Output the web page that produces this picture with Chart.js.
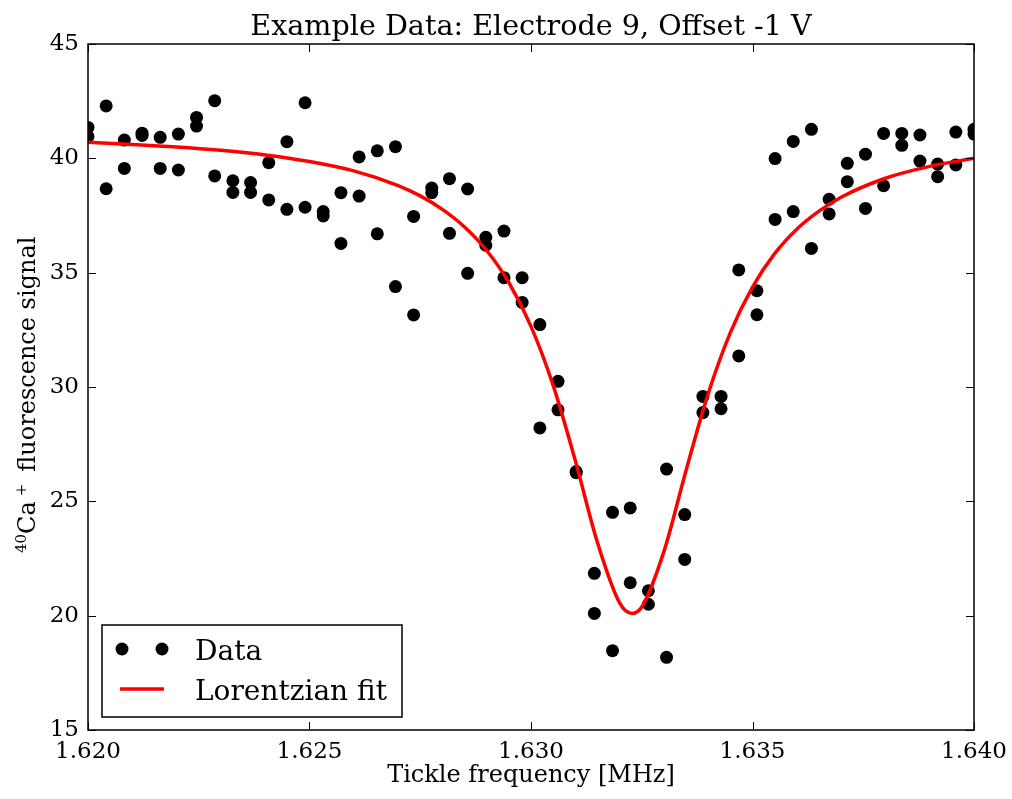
<!DOCTYPE html>
<html>
<head>
<meta charset="utf-8">
<title>Electrode 9 tickle scan</title>
<script src="https://cdn.jsdelivr.net/npm/chart.js@4.4.0/dist/chart.umd.min.js"></script>
<style>
  html, body { margin: 0; padding: 0; background: #fff; }
  canvas { display: block; }
</style>
</head>
<body>
<canvas id="scan" width="1012" height="799"></canvas>
<script>
const FONT = "'DejaVu Serif', serif";
const TITLE = 'Example Data: Electrode 9, Offset -1 V';

// tickle frequency steps [MHz]; two fluorescence readings were taken at each step
const freq = [
  1.62000, 1.62041, 1.62082, 1.62122, 1.62163, 1.62204, 1.62245, 1.62286, 1.62327, 1.62367,
  1.62408, 1.62449, 1.62490, 1.62531, 1.62571, 1.62612, 1.62653, 1.62694, 1.62735, 1.62776,
  1.62816, 1.62857, 1.62898, 1.62939, 1.62980, 1.63020, 1.63061, 1.63102, 1.63143, 1.63184,
  1.63224, 1.63265, 1.63306, 1.63347, 1.63388, 1.63429, 1.63469, 1.63510, 1.63551, 1.63592,
  1.63633, 1.63673, 1.63714, 1.63755, 1.63796, 1.63837, 1.63878, 1.63918, 1.63959, 1.64000
];
const signalA = [
  41.35, 42.29, 40.80, 41.10, 40.92, 41.06, 41.79, 42.52, 39.02, 38.94,
  39.81, 40.73, 42.43, 37.67, 38.50, 40.06, 40.33, 40.51, 37.46, 38.70,
  39.11, 38.66, 36.55, 36.82, 34.78, 32.73, 30.25, 26.30, 21.85, 24.52,
  24.71, 21.09, 26.41, 24.42, 29.59, 29.59, 35.12, 34.21, 39.99, 40.74,
  41.27, 38.21, 39.78, 40.18, 41.09, 41.09, 41.02, 39.75, 41.15, 41.27
];
const signalB = [
  40.95, 38.67, 39.56, 41.00, 39.56, 39.49, 41.41, 39.23, 38.51, 38.51,
  38.18, 37.77, 37.86, 37.48, 36.28, 38.35, 36.70, 34.39, 33.15, 38.50,
  36.72, 34.97, 36.20, 34.78, 33.70, 28.21, 29.00, 26.25, 20.10, 18.47,
  21.44, 20.50, 18.18, 22.46, 28.88, 29.05, 31.36, 33.16, 37.33, 37.67,
  36.06, 37.57, 38.98, 37.81, 38.80, 40.57, 39.88, 39.20, 39.71, 41.06
];

// Lorentzian fit curve, sampled more densely around the dip
const fitFreq = [
  1.620, 1.621, 1.622, 1.623, 1.624, 1.625, 1.626, 1.627, 1.6275, 1.628,
  1.6285, 1.629, 1.6295, 1.630, 1.6305, 1.631, 1.6315, 1.632, 1.63228, 1.6325,
  1.633, 1.6335, 1.634, 1.6345, 1.635, 1.6355, 1.636, 1.6365, 1.637, 1.638,
  1.639, 1.640
];
const fitSignal = [
  40.70, 40.61, 40.50, 40.35, 40.15, 39.86, 39.45, 38.81, 38.36, 37.77,
  37.00, 35.97, 34.57, 32.65, 30.07, 26.78, 23.20, 20.56, 20.10, 20.38,
  22.80, 26.35, 29.71, 32.38, 34.37, 35.83, 36.90, 37.69, 38.30, 39.13,
  39.65, 40.00
];

const xTicks = [1.620, 1.625, 1.630, 1.635, 1.640];
const yTicks = [15, 20, 25, 30, 35, 40, 45];

const dataPoints = freq.map((f, i) => ({ x: f, y: signalA[i] }))
  .concat(freq.map((f, i) => ({ x: f, y: signalB[i] })));
const fitPoints = fitFreq.map((f, i) => ({ x: f, y: fitSignal[i] }));

// y label with the isotope / charge superscripts: [text, font size, raise]
const yLabelParts = [
  ['40', 15, 9],
  ['Ca', 24, 0],
  ['+', 15, 9],
  ['fluorescence signal', 24, 0]
];
// space before each part
const yLabelGaps = [0, 0, 5, 12];

// title, y label, box around the axes with inward ticks on every side, framed legend
const axesFrame = {
  id: 'axesFrame',
  afterDatasetsDraw(chart) {
    const { ctx, chartArea: a, scales } = chart;
    const len = 8;
    ctx.save();

    ctx.fillStyle = '#000';
    ctx.font = '28.6px ' + FONT;
    ctx.textAlign = 'center';
    ctx.textBaseline = 'alphabetic';
    ctx.fillText(TITLE, (a.left + a.right) / 2, 35);

    // rotated y label, read bottom to top
    ctx.save();
    ctx.translate(35, a.bottom - 177);
    ctx.rotate(-Math.PI / 2);
    ctx.textAlign = 'left';
    let pos = 0;
    yLabelParts.forEach(([txt, size, raise], i) => {
      pos += yLabelGaps[i];
      ctx.font = size + 'px ' + FONT;
      ctx.fillText(txt, pos, -raise);
      pos += ctx.measureText(txt).width;
    });
    ctx.restore();

    ctx.strokeStyle = '#000';
    ctx.lineWidth = 1;
    ctx.beginPath();
    scales.x.ticks.forEach(t => {
      const px = Math.round(scales.x.getPixelForValue(t.value)) + 0.5;
      ctx.moveTo(px, a.bottom); ctx.lineTo(px, a.bottom - len);
      ctx.moveTo(px, a.top); ctx.lineTo(px, a.top + len);
    });
    scales.y.ticks.forEach(t => {
      const py = Math.round(scales.y.getPixelForValue(t.value)) + 0.5;
      ctx.moveTo(a.left, py); ctx.lineTo(a.left + len, py);
      ctx.moveTo(a.right, py); ctx.lineTo(a.right - len, py);
    });
    ctx.stroke();
    ctx.lineWidth = 1.5;
    ctx.strokeRect(a.left, a.top, a.right - a.left, a.bottom - a.top);

    // legend
    const sets = chart.data.datasets;
    const data = sets[1], fit = sets[0];
    const bx = a.left + 14, by = a.bottom - 105, bw = 300, bh = 92;
    ctx.fillStyle = '#fff';
    ctx.fillRect(bx, by, bw, bh);
    ctx.lineWidth = 1.5;
    ctx.strokeRect(bx, by, bw, bh);
    const row1 = by + 24, row2 = by + 64;
    ctx.fillStyle = data.pointBackgroundColor;
    [bx + 20, bx + 60].forEach(cx => {
      ctx.beginPath();
      ctx.arc(cx, row1, data.pointRadius, 0, Math.PI * 2);
      ctx.fill();
    });
    ctx.strokeStyle = fit.borderColor;
    ctx.lineWidth = fit.borderWidth;
    ctx.beginPath();
    ctx.moveTo(bx + 18, row2); ctx.lineTo(bx + 62, row2);
    ctx.stroke();
    ctx.fillStyle = '#000';
    ctx.font = '28px ' + FONT;
    ctx.textAlign = 'left';
    ctx.textBaseline = 'alphabetic';
    ctx.fillText(data.label, bx + 93, row1 + 10.5);
    ctx.fillText(fit.label, bx + 93, row2 + 10.5);
    ctx.restore();
  }
};

new Chart(document.getElementById('scan'), {
  type: 'scatter',
  data: {
    datasets: [
      {
        label: 'Lorentzian fit',
        data: fitPoints,
        showLine: true,
        borderColor: '#ff0000',
        borderWidth: 3.5,
        pointRadius: 0,
        cubicInterpolationMode: 'monotone',
        order: 0
      },
      {
        label: 'Data',
        data: dataPoints,
        pointRadius: 6.5,
        pointBackgroundColor: '#000',
        pointBorderWidth: 0,
        clip: 0,
        order: 1
      }
    ]
  },
  options: {
    responsive: false,
    animation: false,
    layout: { padding: { left: 0, right: 38, top: 44, bottom: 0 } },
    plugins: {
      legend: { display: false },
      tooltip: { enabled: false },
      title: { display: false }
    },
    scales: {
      x: {
        type: 'linear',
        min: 1.620,
        max: 1.640,
        afterBuildTicks: s => { s.ticks = xTicks.map(v => ({ value: v })); },
        afterFit: s => { s.height = 69; s.paddingLeft = 0; s.paddingRight = 0; },
        grid: { display: false, drawTicks: false },
        border: { display: false },
        ticks: {
          color: '#000',
          padding: 8,
          maxRotation: 0,
          font: { family: FONT, size: 23 },
          callback: v => v.toFixed(3)
        },
        title: {
          display: true,
          text: 'Tickle frequency [MHz]',
          color: '#000',
          font: { family: FONT, size: 24 },
          padding: { top: 0, bottom: 9 }
        }
      },
      y: {
        min: 15,
        max: 45,
        afterBuildTicks: s => { s.ticks = yTicks.map(v => ({ value: v })); },
        afterFit: s => { s.width = 88; s.paddingTop = 0; s.paddingBottom = 0; },
        grid: { display: false, drawTicks: false },
        border: { display: false },
        ticks: {
          color: '#000',
          padding: 9,
          font: { family: FONT, size: 23 }
        }
      }
    }
  },
  plugins: [axesFrame]
});
</script>
</body>
</html>
